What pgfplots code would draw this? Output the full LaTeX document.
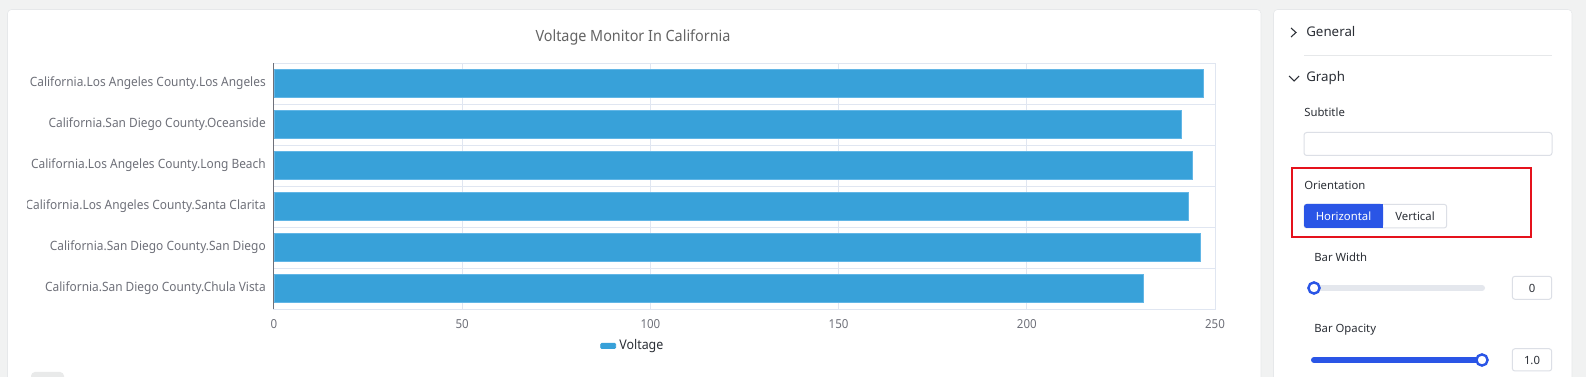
\documentclass[border=0pt]{standalone}
\usepackage{fontspec}
\setmainfont{Noto Sans}
\newfontfamily\chartfont[FakeStretch=0.93]{Noto Sans}
\newfontfamily\uifont{Noto Sans}
\usepackage{pgfplots}
\pgfplotsset{compat=1.18}
\definecolor{pagebg}{HTML}{F1F2F2}
\definecolor{cardborder}{HTML}{E6E8EA}
\definecolor{barc}{HTML}{38A1D9}
\definecolor{baredge}{HTML}{62B6E6}
\definecolor{gridc}{HTML}{E0E6F1}
\definecolor{labc}{HTML}{6E7079}
\definecolor{titlec}{HTML}{646464}
\definecolor{uitext}{HTML}{2B2F36}
\definecolor{uiblue}{HTML}{2A55E6}
\definecolor{uiborder}{HTML}{DCDFE6}
\definecolor{track}{HTML}{E4E7ED}
\definecolor{redbox}{HTML}{E5121C}
\begin{document}
\begin{tikzpicture}
\begin{scope}[x=0.75pt,y=-0.75pt]
\useasboundingbox (0,0) rectangle (1586,377);
\fill[pagebg] (0,0) rectangle (1586,377);
\begin{scope}
\clip (0,0) rectangle (1586,377);
\draw[cardborder, fill=white, rounded corners=3pt] (7.5,9.5) rectangle (1261,395);
\draw[cardborder, fill=white, rounded corners=3pt] (1273.5,9.5) rectangle (1572,395);
\fill[pagebg!85!gray!70, rounded corners=3pt] (31,372) rectangle (64,390);
\end{scope}
\end{scope}
\pgfplotstableread{
y v
0 247
1 241
2 244
3 243
4 246
5 231
}\voltdata
\begin{axis}[
  at={(205.5pt,-231.75pt)}, anchor=south west,
  scale only axis, width=705.75pt, height=184.5pt,
  xbar, bar width=21pt,
  xmin=0, xmax=250, ymin=-0.5, ymax=5.5, y dir=reverse,
  xtick={0,50,...,250}, ytick={0,...,5},
  yticklabels={California.Los Angeles County.Los Angeles,
    California.San Diego County.Oceanside,
    California.Los Angeles County.Long Beach,
    California.Los Angeles County.Santa Clarita,
    California.San Diego County.San Diego,
    California.San Diego County.Chula Vista},
  minor ytick={0.5,1.5,2.5,3.5,4.5},
  xmajorgrids, yminorgrids,
  grid style={gridc, line width=0.75pt},
  minor grid style={gridc, line width=0.75pt},
  axis line style={gridc, line width=0.75pt},
  major tick length=0pt, minor tick length=0pt,
  /pgf/number format/assume math mode=true,
  tick label style={font=\chartfont\fontsize{9.6}{11}\selectfont, text=labc},
  xticklabel style={inner sep=0pt, yshift=-8pt, font=\chartfont\fontsize{9.3}{11}\selectfont},
  yticklabel style={inner sep=0pt, xshift=-6pt},
  legend style={at={(0.382,-0.15)}, anchor=center, draw=none, fill=none,
    font=\chartfont\fontsize{10}{11}\selectfont, text=uitext,
    legend cell align=left, inner sep=0pt,
    nodes={inner sep=2.5pt}},
  legend image code/.code={\fill[barc, rounded corners=0.8pt] (0pt,-1.9pt) rectangle (11.25pt,1.9pt);},
  clip=false,
]
\addplot[fill=barc, draw=baredge, line width=0.6pt] table[x=v, y=y] {\voltdata};
\addlegendentry{Voltage}
\draw[labc, line width=0.75pt] (axis cs:0,-0.5) -- (axis cs:0,5.5);
\end{axis}
\begin{scope}[x=0.75pt,y=-0.75pt]
\fill[white] (8,55) rectangle (27,315);
\node[font=\chartfont\fontsize{11.6}{14}\selectfont, text=titlec] at (633,37) {Voltage Monitor In California};
% right panel
\draw[uitext, line width=0.8pt] (1291,28) -- (1296,32.5) -- (1291,37);
\node[anchor=west, inner sep=0pt, font=\uifont\fontsize{10}{12}\selectfont, text=uitext] at (1306,32) {General};
\draw[cardborder, line width=0.75pt] (1304,55.3) -- (1552,55.3);
\draw[uitext, line width=0.8pt] (1289,76) -- (1294,81) -- (1299,76);
\node[anchor=west, inner sep=0pt, font=\uifont\fontsize{10}{12}\selectfont, text=uitext] at (1306,78) {Graph};
\node[anchor=west, inner sep=0pt, font=\uifont\fontsize{8.5}{10}\selectfont, text=uitext] at (1304,112.5) {Subtitle};
\draw[uiborder, line width=0.75pt, rounded corners=2pt] (1304,132.5) rectangle (1552,155.5);
\draw[redbox, line width=1.5pt] (1292.3,167.7) rectangle (1530.7,236.7);
\node[anchor=west, inner sep=0pt, font=\uifont\fontsize{8.5}{10}\selectfont, text=uitext] at (1304,185) {Orientation};
\draw[uiborder, line width=0.75pt, rounded corners=2pt] (1304,204.3) rectangle (1446.7,228);
\fill[uiblue, rounded corners=2pt] (1304,204) rectangle (1383,228);
\fill[uiblue] (1375,204) rectangle (1383,228);
\node[inner sep=0pt, font=\uifont\fontsize{8.5}{10}\selectfont, text=white] at (1343.5,216) {Horizontal};
\node[inner sep=0pt, font=\uifont\fontsize{8.5}{10}\selectfont, text=uitext] at (1415,216) {Vertical};
\node[anchor=west, inner sep=0pt, font=\uifont\fontsize{8.5}{10}\selectfont, text=uitext] at (1314,257) {Bar Width};
\draw[track, line width=4.5pt, line cap=round] (1314,288) -- (1482,288);
\draw[uiblue, fill=white, line width=1.8pt] (1314,288) circle (5.6);
\draw[uiborder, line width=0.75pt, rounded corners=2pt] (1512.3,276.3) rectangle (1551.7,299.3);
\node[inner sep=0pt, font=\uifont\fontsize{8.5}{10}\selectfont, text=uitext] at (1532,288) {0};
\node[anchor=west, inner sep=0pt, font=\uifont\fontsize{8.5}{10}\selectfont, text=uitext] at (1314,329.3) {Bar Opacity};
\draw[uiblue, line width=4.5pt, line cap=round] (1314,360) -- (1482,360);
\draw[uiblue, fill=white, line width=1.8pt] (1482,360) circle (5.6);
\draw[uiborder, line width=0.75pt, rounded corners=2pt] (1512.3,348.7) rectangle (1551.7,371);
\node[inner sep=0pt, font=\uifont\fontsize{8.5}{10}\selectfont, text=uitext] at (1532,360) {1.0};
\end{scope}
\end{tikzpicture}
\end{document}
